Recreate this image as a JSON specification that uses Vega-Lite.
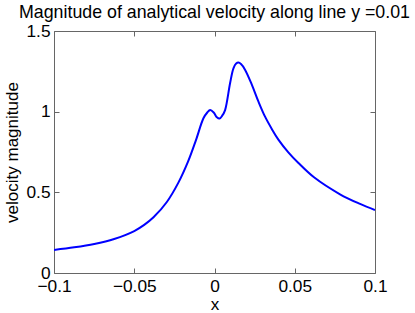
{
  "$schema": "https://vega.github.io/schema/vega-lite/v6.json",
  "width": 321,
  "height": 242,
  "autosize": {"type": "none"},
  "padding": {"left": 54, "top": 31, "right": 40, "bottom": 40},
  "title": {"text": "Magnitude of analytical velocity along line y =0.01", "font": "Liberation Sans", "fontSize": 17.8, "fontWeight": "normal", "color": "black", "anchor": "middle", "offset": 0},
  "config": {
    "view": {"stroke": "#666666", "strokeWidth": 1},
    "axis": {"domain": false, "grid": false, "tickColor": "#666666", "tickSize": -5, "labelFont": "Liberation Sans", "labelFontSize": 17.3, "labelColor": "black", "titleFont": "Liberation Sans", "titleFontSize": 17, "titleFontWeight": "normal", "titleColor": "black", "labelPadding": 9, "labelFlush": false}
  },
  "data": {"values": [
    {"x": -0.1, "v": 0.143},
    {"x": -0.0874, "v": 0.159},
    {"x": -0.0749, "v": 0.18},
    {"x": -0.0625, "v": 0.211},
    {"x": -0.05, "v": 0.26},
    {"x": -0.0438, "v": 0.298},
    {"x": -0.038, "v": 0.345},
    {"x": -0.0297, "v": 0.44},
    {"x": -0.0225, "v": 0.56},
    {"x": -0.0165, "v": 0.69},
    {"x": -0.0115, "v": 0.825},
    {"x": -0.0069, "v": 0.959},
    {"x": -0.0045, "v": 0.995},
    {"x": -0.0027, "v": 1.01},
    {"x": -0.0005, "v": 0.995},
    {"x": 0.0015, "v": 0.965},
    {"x": 0.0031, "v": 0.957},
    {"x": 0.0048, "v": 0.975},
    {"x": 0.0066, "v": 1.01},
    {"x": 0.0097, "v": 1.176},
    {"x": 0.0118, "v": 1.269},
    {"x": 0.0135, "v": 1.298},
    {"x": 0.0149, "v": 1.304},
    {"x": 0.0165, "v": 1.295},
    {"x": 0.0191, "v": 1.259},
    {"x": 0.0233, "v": 1.166},
    {"x": 0.0274, "v": 1.062},
    {"x": 0.0315, "v": 0.969},
    {"x": 0.0357, "v": 0.893},
    {"x": 0.0398, "v": 0.827},
    {"x": 0.046, "v": 0.748},
    {"x": 0.0523, "v": 0.682},
    {"x": 0.062, "v": 0.593},
    {"x": 0.0782, "v": 0.488},
    {"x": 0.0907, "v": 0.428},
    {"x": 0.1, "v": 0.39}
  ]},
  "layer": [
    {
      "mark": {"type": "line", "color": "#0000ff", "strokeWidth": 2, "interpolate": "catmull-rom", "clip": true},
      "encoding": {
        "x": {"field": "x", "type": "quantitative", "scale": {"domain": [-0.1, 0.1], "nice": false, "zero": false}, "axis": {"orient": "bottom", "values": [-0.1, -0.05, 0, 0.05, 0.1], "format": "~g", "title": "x", "titlePadding": 2}},
        "y": {"field": "v", "type": "quantitative", "scale": {"domain": [0, 1.5], "nice": false}, "axis": {"orient": "left", "values": [0, 0.5, 1, 1.5], "format": "~g", "title": "velocity magnitude", "titlePadding": 4}}
      }
    },
    {
      "mark": {"type": "line", "opacity": 0},
      "encoding": {
        "x": {"field": "x", "type": "quantitative", "scale": {"domain": [-0.1, 0.1], "nice": false, "zero": false}, "axis": {"orient": "top", "values": [-0.1, -0.05, 0, 0.05, 0.1], "labels": false, "title": null}},
        "y": {"field": "v", "type": "quantitative", "scale": {"domain": [0, 1.5], "nice": false}, "axis": {"orient": "right", "values": [0, 0.5, 1, 1.5], "labels": false, "title": null}}
      }
    }
  ],
  "resolve": {"axis": {"x": "independent", "y": "independent"}}
}
